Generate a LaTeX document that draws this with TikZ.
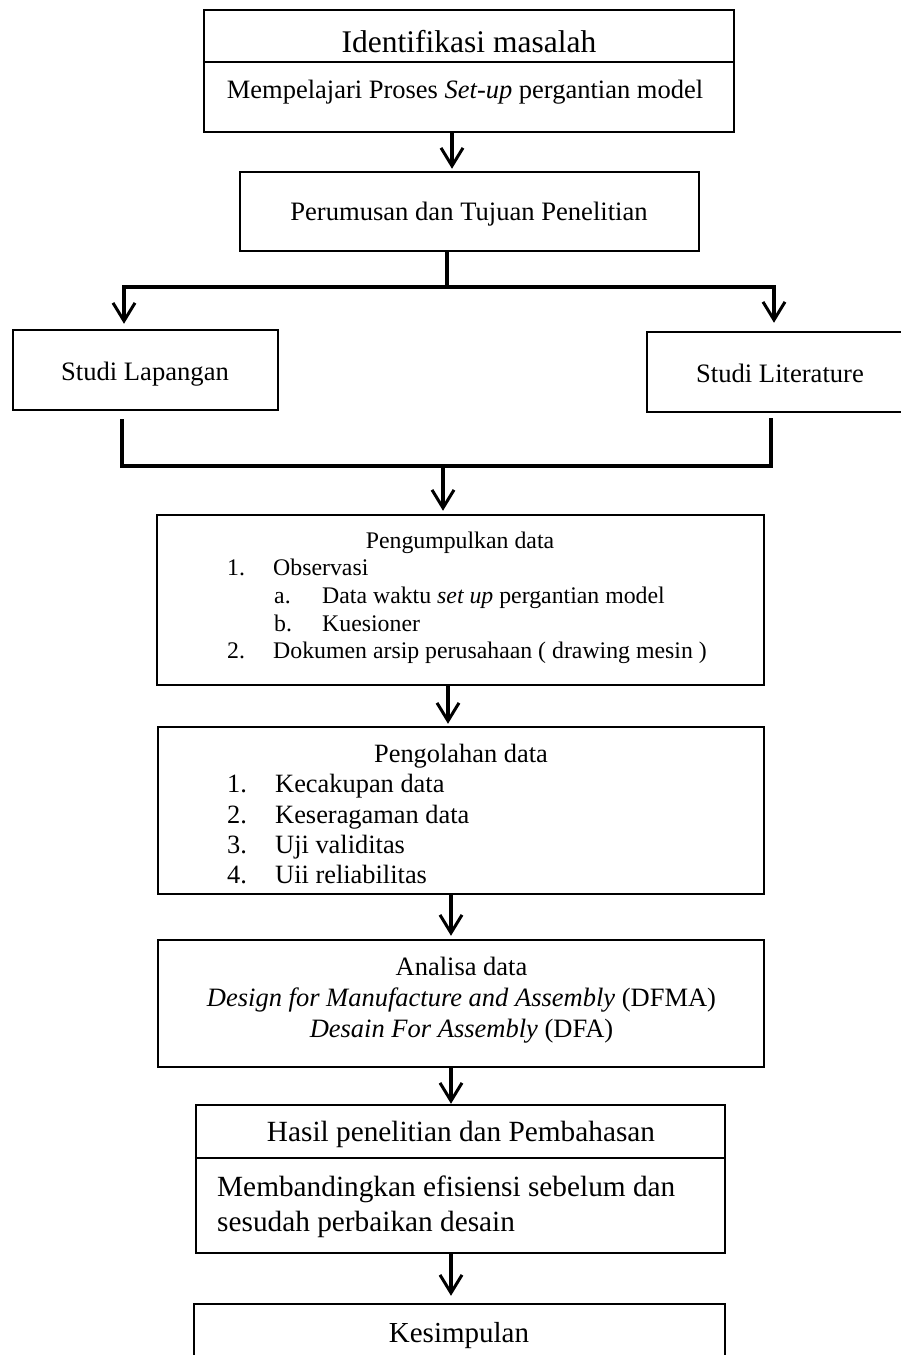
\documentclass[tikz,border=0pt]{standalone}
\usepackage{fontspec}
\setmainfont{Liberation Serif}
\usetikzlibrary{arrows.meta}
\newcommand{\fsz}[1]{\fontsize{#1}{#1}\selectfont}
\tikzset{
  box/.style={draw, line width=2.5pt, inner sep=0pt, rectangle},
  divline/.style={line width=2.5pt},
  conn/.style={line width=3.5pt},
  arr/.style={conn, -{Straight Barb[length=18pt,width=22pt,line width=3pt]}},
  txt/.style={inner sep=0pt, anchor=base},
  txtl/.style={inner sep=0pt, anchor=base west},
}
\begin{document}
\begin{tikzpicture}[x=1pt,y=-1pt]
\useasboundingbox (0,0) rectangle (901,1355);

% Box 1
\node[box, minimum width=530, minimum height=122] (b1) at (469,71) {};
\draw[divline] (b1.west |- 0,62) -- (b1.east |- 0,62);
\node[txt, font=\fsz{31.5}] (t1) at (469,52) {Identifikasi masalah};
\node[txt, font=\fsz{26.5}] (t2) at (465,98) {Mempelajari Proses \textit{Set-up} pergantian model};

% Box 2
\node[box, minimum width=459, minimum height=79] (b2) at (469.5,211.5) {};
\node[txt, font=\fsz{26.6}] (t3) at (469,220) {Perumusan dan Tujuan Penelitian};

% Box 3, 4
\node[box, minimum width=265, minimum height=80] (b3) at (145.5,370) {};
\node[txt, font=\fsz{26.6}] (t4) at (145,380) {Studi Lapangan};
\node[box, minimum width=266, minimum height=80] (b4) at (780,372) {};
\node[txt, font=\fsz{26.6}] (t5) at (780,382) {Studi Literature};

% Box 5
\node[box, minimum width=607, minimum height=170] (b5) at (460.5,600) {};
\begin{scope}[every node/.append style={font=\fsz{23.8}}]
\node[txt] (t6) at (460,548) {Pengumpulkan data};
\node[txtl] (t6a) at (227,575) {1.};
\node[txtl] (t6b) at (273,575) {Observasi};
\node[txtl] (t6c) at (274,603) {a.};
\node[txtl] (t6d) at (322,603) {Data waktu \textit{set up} pergantian model};
\node[txtl] (t6e) at (274,631) {b.};
\node[txtl] (t6f) at (322,631) {Kuesioner};
\node[txtl] (t6g) at (227,658) {2.};
\node[txtl] (t6h) at (273,658) {Dokumen arsip perusahaan ( drawing mesin )};
\end{scope}

% Box 6
\node[box, minimum width=606, minimum height=167] (b6) at (461,810.5) {};
\begin{scope}[every node/.append style={font=\fsz{26.4}}]
\node[txt] (t7) at (461,762) {Pengolahan data};
\node[txtl] (t7a) at (227,792) {1.};
\node[txtl] (t7b) at (275,792) {Kecakupan data};
\node[txtl] (t7c) at (227,823) {2.};
\node[txtl] (t7d) at (275,823) {Keseragaman data};
\node[txtl] (t7e) at (227,853) {3.};
\node[txtl] (t7f) at (275,853) {Uji validitas};
\node[txtl] (t7g) at (227,883) {4.};
\node[txtl] (t7h) at (275,883) {Uii reliabilitas};
\end{scope}

% Box 7
\node[box, minimum width=606, minimum height=127] (b7) at (461,1003.5) {};
\begin{scope}[every node/.append style={font=\fsz{26.5}}]
\node[txt] (t8) at (461.5,975) {Analisa data};
\node[txt] (t8a) at (461.5,1006) {\textit{Design for Manufacture and Assembly} (DFMA)};
\node[txt] (t8b) at (461.5,1037) {\textit{Desain For Assembly} (DFA)};
\end{scope}

% Box 8
\node[box, minimum width=529, minimum height=148] (b8) at (460.5,1179) {};
\draw[divline] (b8.west |- 0,1158) -- (b8.east |- 0,1158);
\begin{scope}[every node/.append style={font=\fsz{29.3}}]
\node[txt] (t9) at (461,1141) {Hasil penelitian dan Pembahasan};
\node[txtl] (t9a) at (217,1196) {Membandingkan efisiensi sebelum dan};
\node[txtl] (t9b) at (217,1231) {sesudah perbaikan desain};
\end{scope}

% Box 9
\node[box, minimum width=531, minimum height=96] (b9) at (459.5,1352) {};
\node[txt, font=\fsz{29}] (t10) at (459,1342) {Kesimpulan};

% Connectors
\draw[arr, shorten >=2pt] (452,0 |- b1.south) -- (452,0 |- b2.north);

\coordinate (j1) at (447,287);
\coordinate (jL) at (124,287);
\coordinate (jR) at (774,287);
\draw[conn] (b2.south -| j1) -- (j1);
\draw[arr, shorten >=5pt] (j1) -- (jL) -- (jL |- b3.north);
\draw[arr, shorten >=8pt] (j1) -- (jR) -- (jR |- b4.north);

\coordinate (j2) at (443,466);
\coordinate (kL) at (122,466);
\coordinate (kR) at (771,466);
\coordinate (sL) at ([yshift=-8pt]b3.south);
\coordinate (sR) at ([yshift=-5pt]b4.south);
\draw[conn] (sL -| kL) -- (kL) -- (kR) -- (sR -| kR);
\draw[arr, shorten >=3pt] (j2) -- (j2 |- b5.north);

\draw[arr, shorten >=2pt] (448,0 |- b5.south) -- (448,0 |- b6.north);
\draw[arr, shorten >=3pt] (451,0 |- b6.south) -- (451,0 |- b7.north);
\draw[arr, shorten >=0pt] (451,0 |- b7.south) -- (451,0 |- b8.north);
\draw[arr, shorten >=7pt] (451,0 |- b8.south) -- (451,0 |- b9.north);
\end{tikzpicture}
\end{document}
